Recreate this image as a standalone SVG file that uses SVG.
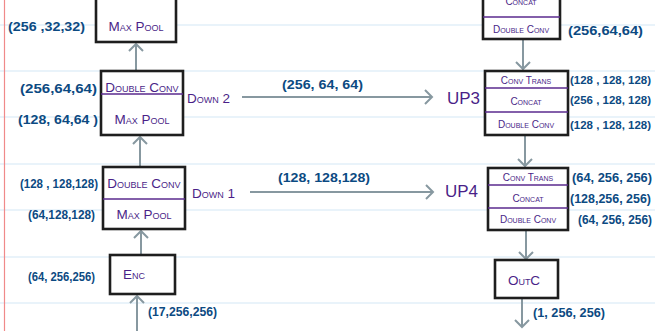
<svg xmlns="http://www.w3.org/2000/svg" width="655" height="331" viewBox="0 0 655 331">
<style>
.bg{fill:#ffffff}
.rule{stroke:#d3e8f6;stroke-width:1.2}
.margin{stroke:#f08a8a;stroke-width:1.2}
.box{fill:#ffffff;stroke:#1e1e1e;stroke-width:2.6}
.div{stroke:#5a2a8e;stroke-width:1.4}
.lbl{font-family:"Liberation Sans",Arial,sans-serif;fill:#4a1f88;font-variant:small-caps;text-anchor:middle}
.big{font-size:13.5px}
.sm{font-size:10px}
.dim{font-family:"Liberation Sans",Arial,sans-serif;fill:#0c4a82;font-size:12.5px;font-weight:bold}
.dimr{font-size:11px}
.tag{font-family:"Liberation Sans",Arial,sans-serif;fill:#4a1f88;font-size:13.5px;font-variant:small-caps}
.up{font-family:"Liberation Sans",Arial,sans-serif;fill:#4a1f88;font-size:17px}
.arr{stroke:#8798a0;stroke-width:2;fill:none;marker-end:url(#ah)}
</style>
<defs>
<marker id="ah" markerUnits="userSpaceOnUse" markerWidth="16" markerHeight="16" refX="8" refY="8" orient="auto" viewBox="0 0 16 16">
<path d="M2,1 L9,8 L2,15" fill="none" stroke="#8798a0" stroke-width="2"/>
</marker>
</defs>
<rect class="bg" x="0" y="0" width="655" height="331"/>
<g id="paper">
<line class="rule" x1="0" y1="25" x2="655" y2="25"/>
<line class="rule" x1="0" y1="71" x2="655" y2="71"/>
<line class="rule" x1="0" y1="117" x2="655" y2="117"/>
<line class="rule" x1="0" y1="164" x2="655" y2="164"/>
<line class="rule" x1="0" y1="210" x2="655" y2="210"/>
<line class="rule" x1="0" y1="257" x2="655" y2="257"/>
<line class="rule" x1="0" y1="303" x2="655" y2="303"/>
<line class="margin" x1="4.5" y1="0" x2="4.5" y2="331"/>
</g>
<g id="connectors">
<line class="arr" x1="136" y1="70" x2="136" y2="45"/>
<line class="arr" x1="140" y1="166" x2="140" y2="138"/>
<line class="arr" x1="141" y1="256" x2="141" y2="232"/>
<line class="arr" x1="137" y1="331" x2="137" y2="297"/>
<line class="arr" x1="242" y1="97" x2="431" y2="97"/>
<line class="arr" x1="250" y1="192" x2="432" y2="192"/>
<line class="arr" x1="523" y1="40" x2="523" y2="68"/>
<line class="arr" x1="525" y1="136" x2="525" y2="165"/>
<line class="arr" x1="526" y1="231" x2="526" y2="258"/>
<line class="arr" x1="522" y1="299" x2="522" y2="326"/>
<text class="dim" x="282" y="89" textLength="81" lengthAdjust="spacingAndGlyphs">(256, 64, 64)</text>
<text class="dim" x="278" y="182" textLength="92" lengthAdjust="spacingAndGlyphs">(128, 128,128)</text>
<text class="dim" x="148" y="316" textLength="69" lengthAdjust="spacingAndGlyphs">(17,256,256)</text>
<text class="dim" x="533" y="317" textLength="72" lengthAdjust="spacingAndGlyphs">(1, 256, 256)</text>
</g>
<g id="maxpool3">
<rect class="box" x="96" y="-5" width="80" height="47"/>
<text class="lbl big" x="136" y="31">Max Pool</text>
<text class="dim" x="8" y="31" textLength="77" lengthAdjust="spacingAndGlyphs">(256 ,32,32)</text>
</g>
<g id="down2">
<rect class="box" x="101" y="71" width="82" height="64"/>
<line class="div" x1="101" y1="94" x2="183" y2="94"/>
<text class="lbl big" x="142" y="92">Double Conv</text>
<text class="lbl big" x="142" y="124">Max Pool</text>
<text class="dim" x="20" y="93" textLength="77" lengthAdjust="spacingAndGlyphs">(256,64,64)</text>
<text class="dim" x="18" y="124" textLength="80" lengthAdjust="spacingAndGlyphs">(128, 64,64 )</text>
<text class="tag" x="187" y="103">Down 2</text>
</g>
<g id="down1">
<rect class="box" x="103" y="167" width="82" height="62"/>
<line class="div" x1="103" y1="199" x2="185" y2="199"/>
<text class="lbl big" x="144" y="188">Double Conv</text>
<text class="lbl big" x="144" y="219">Max Pool</text>
<text class="dim" x="20" y="188" textLength="78" lengthAdjust="spacingAndGlyphs">(128 , 128,128)</text>
<text class="dim" x="28" y="219" textLength="67" lengthAdjust="spacingAndGlyphs">(64,128,128)</text>
<text class="tag" x="192" y="198">Down 1</text>
</g>
<g id="enc">
<rect class="box" x="110" y="255" width="65" height="39"/>
<text class="lbl big" x="134" y="279">Enc</text>
<text class="dim" x="28" y="281" textLength="67" lengthAdjust="spacingAndGlyphs">(64, 256,256)</text>
</g>
<g id="up2">
<rect class="box" x="483" y="-5" width="77" height="44"/>
<line class="div" x1="483" y1="17" x2="560" y2="17"/>
<text class="lbl sm" x="521" y="5">Concat</text>
<text class="lbl sm" x="521" y="33">Double Conv</text>
<text class="dim" x="568" y="35" textLength="75" lengthAdjust="spacingAndGlyphs">(256,64,64)</text>
</g>
<g id="up3">
<rect class="box" x="485" y="71" width="83" height="64"/>
<line class="div" x1="485" y1="88" x2="568" y2="88"/>
<line class="div" x1="485" y1="112" x2="568" y2="112"/>
<text class="lbl sm" x="526" y="84">Conv Trans</text>
<text class="lbl sm" x="526" y="105">Concat</text>
<text class="lbl sm" x="526" y="128">Double Conv</text>
<text class="dim dimr" x="570" y="84" textLength="81" lengthAdjust="spacingAndGlyphs">(128 , 128, 128)</text>
<text class="dim dimr" x="570" y="104" textLength="81" lengthAdjust="spacingAndGlyphs">(256 , 128, 128)</text>
<text class="dim dimr" x="570" y="129" textLength="81" lengthAdjust="spacingAndGlyphs">(128 , 128, 128)</text>
<text class="up" x="447" y="104">UP3</text>
</g>
<g id="up4">
<rect class="box" x="488" y="168" width="80" height="62"/>
<line class="div" x1="488" y1="185" x2="568" y2="185"/>
<line class="div" x1="488" y1="208" x2="568" y2="208"/>
<text class="lbl sm" x="528" y="181">Conv Trans</text>
<text class="lbl sm" x="528" y="202">Concat</text>
<text class="lbl sm" x="528" y="223">Double Conv</text>
<text class="dim" x="572" y="182" textLength="80" lengthAdjust="spacingAndGlyphs">(64, 256, 256)</text>
<text class="dim" x="570" y="203" textLength="81" lengthAdjust="spacingAndGlyphs">(128,256, 256)</text>
<text class="dim" x="578" y="224" textLength="74" lengthAdjust="spacingAndGlyphs">(64, 256, 256)</text>
<text class="up" x="445" y="197">UP4</text>
</g>
<g id="outc">
<rect class="box" x="495" y="260" width="63" height="38"/>
<text class="lbl big" x="524" y="285">OutC</text>
</g>
</svg>
